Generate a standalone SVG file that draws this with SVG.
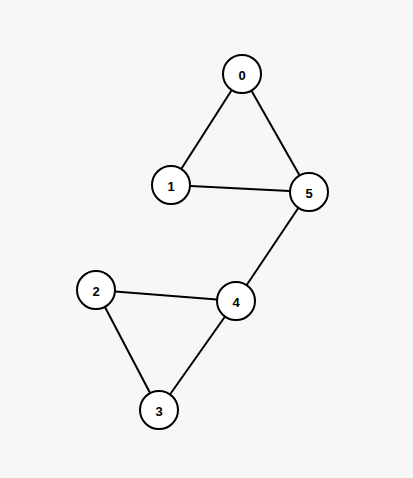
<svg xmlns="http://www.w3.org/2000/svg" width="413" height="478" viewBox="0 0 413 478">
<style>
.n circle{fill:#fff;stroke:#000;stroke-width:2}
.n text{font-family:"Liberation Sans",Arial,sans-serif;font-weight:bold;font-size:13px;text-anchor:middle;dominant-baseline:central;fill:#000}
#edges line{stroke:#000;stroke-width:2}
</style>
<rect width="413" height="478" fill="#f7f7f7"/>
<g id="edges">
<line x1="242" y1="74" x2="171" y2="185"/>
<line x1="242" y1="74" x2="309" y2="192"/>
<line x1="171" y1="185" x2="309" y2="192"/>
<line x1="309" y1="192" x2="236" y2="301"/>
<line x1="96" y1="290" x2="236" y2="301"/>
<line x1="96" y1="290" x2="159" y2="410"/>
<line x1="236" y1="301" x2="159" y2="410"/>
</g>
<g id="node0" class="n"><circle cx="242" cy="74" r="19"/><text x="242" y="75">0</text></g>
<g id="node1" class="n"><circle cx="171" cy="185" r="19"/><text x="171" y="186">1</text></g>
<g id="node5" class="n"><circle cx="309" cy="192" r="19"/><text x="309" y="193">5</text></g>
<g id="node2" class="n"><circle cx="96" cy="290" r="19"/><text x="96" y="291">2</text></g>
<g id="node4" class="n"><circle cx="236" cy="301" r="19"/><text x="236" y="302">4</text></g>
<g id="node3" class="n"><circle cx="159" cy="410" r="19"/><text x="159" y="411">3</text></g>
</svg>
